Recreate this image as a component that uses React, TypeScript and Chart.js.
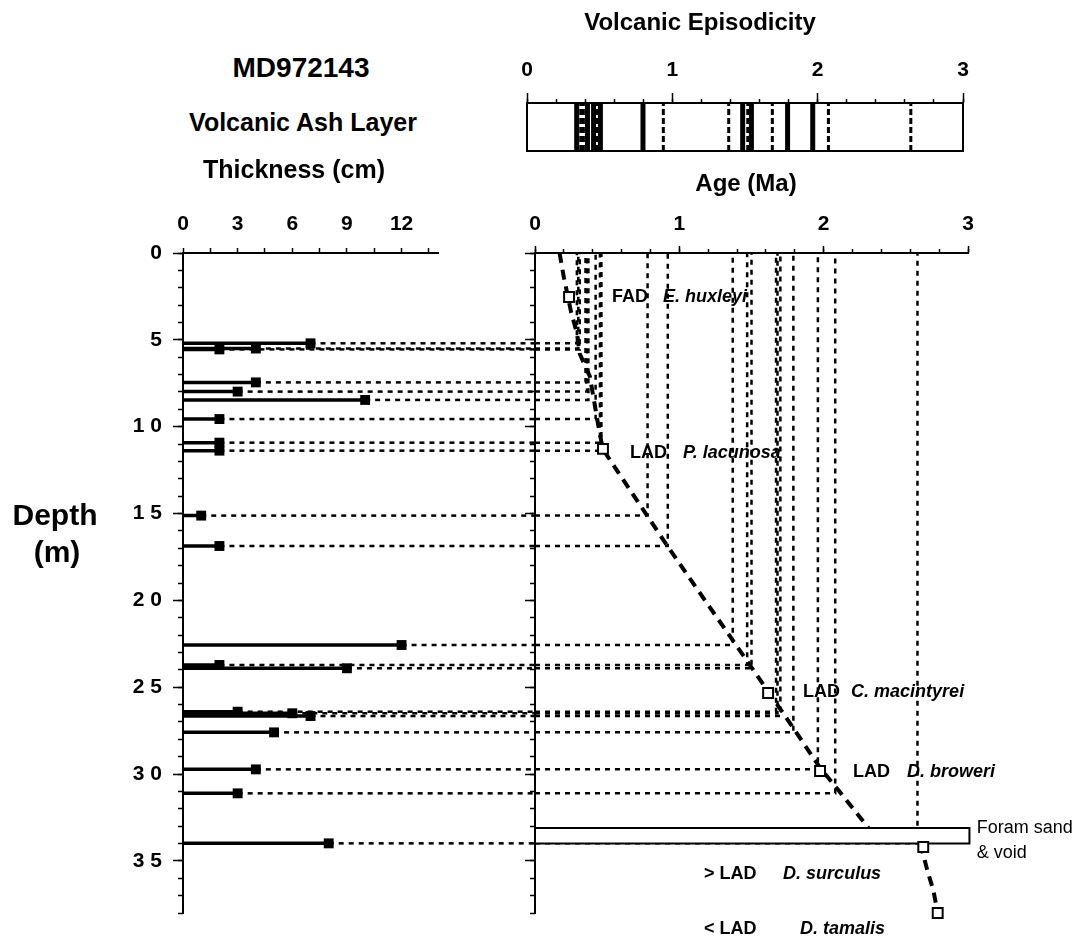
import React, { useEffect, useRef } from "react";
import { Chart, registerables } from "chart.js";

Chart.register(...registerables);

const FONT = '"Liberation Sans", Arial, Helvetica, sans-serif';

// ---------------- data ----------------
// Volcanic ash layers in core MD972143
const LAYER_DEPTH_M = [5.2, 5.5, 5.55, 7.45, 7.98, 8.46, 9.56, 10.92, 11.38, 15.12, 16.87, 22.57, 23.72, 23.91, 26.41, 26.5, 26.66, 27.6, 29.73, 31.11, 33.99];
const LAYER_THICKNESS_CM = [7, 4, 2, 4, 3, 10, 2, 2, 2, 1, 2, 12, 2, 9, 3, 6, 7, 5, 4, 3, 8];
const LAYER_AGE_MA = [0.29, 0.3, 0.31, 0.35, 0.36, 0.37, 0.42, 0.45, 0.46, 0.78, 0.92, 1.37, 1.47, 1.5, 1.67, 1.68, 1.7, 1.79, 1.96, 2.08, 2.65];

// Age-depth model (dashed), upper and lower parts (interrupted by the foram sand)
const MODEL_UPPER_AGE = [0.17, 0.2, 0.25, 0.29, 0.31, 0.38, 0.44, 0.47, 0.92, 1.52, 1.72, 1.98, 2.09, 2.31];
const MODEL_UPPER_DEPTH = [0, 1.4, 3.4, 4.6, 5.8, 7.1, 10.0, 11.3, 16.9, 24.1, 26.5, 29.7, 30.8, 33.1];
const MODEL_LOWER_AGE = [2.67, 2.72, 2.76, 2.79];
const MODEL_LOWER_DEPTH = [34.0, 35.6, 36.7, 38.0];

// Nannofossil datums
const EVENT_TYPE = ["FAD", "LAD", "LAD", "LAD", "> LAD", "< LAD"];
const EVENT_NAME = ["E. huxleyi", "P. lacunosa", "C. macintyrei", "D. broweri", "D. surculus", "D. tamalis"];
const EVENT_AGE = [0.236, 0.471, 1.615, 1.975, 2.69, 2.79];
const EVENT_DEPTH = [2.53, 11.28, 25.33, 29.82, 34.2, 38.0];
// label anchors (data units)
const EVENT_LABEL_DEPTH = [2.54, 11.53, 25.3, 29.86, 35.73, 38.9];
const EVENT_TYPE_LABEL_AGE = [0.534, 0.658, 1.857, 2.204, 1.171, 1.171];
const EVENT_NAME_LABEL_AGE = [0.887, 1.026, 2.19, 2.578, 1.719, 1.836];

// Foram sand & void interval
const FORAM_TOP_M = 33.1;
const FORAM_BOTTOM_M = 34.0;
const FORAM_AGE_END = 3.01;
const FORAM_LABEL = ["Foram sand", "& void"];
const FORAM_LABEL_DEPTH = [33.08, 34.52];
const FORAM_LABEL_AGE = 3.06;

// Volcanic episodicity bar
const EPISODE_AGE = [0.342, 0.37, 0.388, 0.416, 0.458, 0.484, 0.505, 0.798, 0.938, 1.388, 1.484, 1.519, 1.544, 1.688, 1.793, 1.966, 2.074, 2.641];
const EPISODE_THICK = [true, false, false, true, true, false, true, true, false, false, true, false, true, false, true, true, false, false];

// ticks
const THICK_TICKS = [0, 1.5, 3, 4.5, 6, 7.5, 9, 10.5, 12, 13.5];
const THICK_LABELS = [0, 3, 6, 9, 12];
const DEPTH_MAJOR = [0, 5, 10, 15, 20, 25, 30, 35];
const DEPTH_MINOR = [0, 1, 2, 3, 4, 5, 6, 7, 8, 9, 10, 11, 12, 13, 14, 15, 16, 17, 18, 19, 20, 21, 22, 23, 24, 25, 26, 27, 28, 29, 30, 31, 32, 33, 34, 35, 36, 37, 38];
const AGE_MAJOR = [0, 1, 2, 3];
const AGE_MINOR = [0, 0.2, 0.4, 0.6, 0.8, 1, 1.2, 1.4, 1.6, 1.8, 2, 2.2, 2.4, 2.6, 2.8, 3];

// ---------------- helpers ----------------
const tickFont = { family: FONT, size: 21, weight: "bold" as const };
const setTicks = (vals: number[]) => (s: any) => {
  s.ticks = vals.map((v) => ({ value: v }));
};

function gridOpts(len: number) {
  return { display: true, drawOnChartArea: false, drawTicks: true, tickLength: len, tickColor: "#000", tickWidth: 1.5 };
}

const basePlugins = { legend: { display: false }, tooltip: { enabled: false }, title: { display: false } };

// ---------------- charts ----------------
const leftConnectors = {
  id: "leftConnectors",
  beforeDatasetsDraw(chart: any) {
    const { ctx } = chart;
    const xs = chart.scales.x;
    const ys = chart.scales.y;
    ctx.save();
    ctx.strokeStyle = "#000";
    ctx.lineWidth = 2.5;
    ctx.setLineDash([5, 5]);
    LAYER_DEPTH_M.forEach((d, i) => {
      const y = ys.getPixelForValue(d);
      ctx.beginPath();
      ctx.moveTo(xs.getPixelForValue(LAYER_THICKNESS_CM[i]), y);
      ctx.lineTo(chart.width, y);
      ctx.stroke();
    });
    ctx.restore();
  },
};

function makeLeft() {
  const bars: any[] = [];
  LAYER_DEPTH_M.forEach((d, i) => {
    bars.push({ x: 0, y: d }, { x: LAYER_THICKNESS_CM[i], y: d }, { x: LAYER_THICKNESS_CM[i], y: null });
  });
  return {
    type: "line",
    data: {
      datasets: [
        {
          data: LAYER_DEPTH_M.map((d, i) => ({ x: LAYER_THICKNESS_CM[i], y: d })),
          showLine: false,
          pointStyle: "rect",
          pointRadius: 7,
          pointBackgroundColor: "#000",
          pointBorderColor: "#000",
          pointBorderWidth: 0,
          order: 0,
          clip: false,
        },
        {
          data: bars,
          borderColor: "#000",
          borderWidth: 3.5,
          pointRadius: 0,
          spanGaps: false,
          fill: false,
          order: 1,
        },
      ],
    },
    options: {
      responsive: false,
      animation: false,
      devicePixelRatio: 1,
      layout: { padding: { left: 0, top: 0, right: 97, bottom: 27 } },
      plugins: basePlugins,
      scales: {
        x: {
          type: "linear",
          position: "top",
          min: 0,
          max: 14,
          afterBuildTicks: setTicks(THICK_TICKS),
          afterFit: (s: any) => { s.height = 73; },
          ticks: {
            autoSkip: false, maxRotation: 0, padding: 11, color: "#000", font: tickFont,
            callback: (v: number) => (THICK_LABELS.includes(v) ? String(v) : ""),
          },
          grid: gridOpts(5),
          border: { display: true, color: "#000", width: 2 },
        },
        y: {
          type: "linear",
          position: "left",
          reverse: true,
          min: 0,
          max: 38,
          weight: 1,
          afterBuildTicks: setTicks(DEPTH_MAJOR),
          afterFit: (s: any) => { s.width = 183; },
          ticks: {
            autoSkip: false, padding: 11, color: "#000", font: tickFont,
            callback: (v: number) => String(v).split("").join(" "),
          },
          grid: gridOpts(10),
          border: { display: true, color: "#000", width: 2 },
        },
        yMinor: {
          type: "linear",
          position: "left",
          reverse: true,
          min: 0,
          max: 38,
          weight: 0,
          afterBuildTicks: setTicks(DEPTH_MINOR),
          afterFit: (s: any) => { s.width = 0; },
          ticks: { display: false },
          grid: gridOpts(5),
          border: { display: false },
        },
      },
    },
    plugins: [leftConnectors],
  };
}

const rightAnnotations = {
  id: "rightAnnotations",
  afterDatasetsDraw(chart: any) {
    const { ctx } = chart;
    const xs = chart.scales.x;
    const ys = chart.scales.y;
    ctx.save();
    ctx.fillStyle = "#000";
    ctx.textAlign = "left";
    ctx.textBaseline = "middle";
    EVENT_TYPE.forEach((t, i) => {
      const y = ys.getPixelForValue(EVENT_LABEL_DEPTH[i]);
      ctx.font = `bold 18px ${FONT}`;
      ctx.fillText(t, xs.getPixelForValue(EVENT_TYPE_LABEL_AGE[i]), y);
      ctx.font = `italic bold 18px ${FONT}`;
      ctx.fillText(EVENT_NAME[i], xs.getPixelForValue(EVENT_NAME_LABEL_AGE[i]), y);
    });
    ctx.font = `18px ${FONT}`;
    FORAM_LABEL.forEach((t, i) => {
      ctx.fillText(t, xs.getPixelForValue(FORAM_LABEL_AGE), ys.getPixelForValue(FORAM_LABEL_DEPTH[i]));
    });
    ctx.restore();
  },
};

function makeRight() {
  const connectors: any[] = [];
  LAYER_DEPTH_M.forEach((d, i) => {
    const a = LAYER_AGE_MA[i];
    connectors.push({ x: 0, y: d }, { x: a, y: d }, { x: a, y: 0 }, { x: a, y: null });
  });
  const model: any[] = MODEL_UPPER_AGE.map((a, i) => ({ x: a, y: MODEL_UPPER_DEPTH[i] }));
  model.push({ x: MODEL_UPPER_AGE[MODEL_UPPER_AGE.length - 1], y: null });
  MODEL_LOWER_AGE.forEach((a, i) => model.push({ x: a, y: MODEL_LOWER_DEPTH[i] }));
  const box = [
    { x: 0, y: FORAM_TOP_M },
    { x: FORAM_AGE_END, y: FORAM_TOP_M },
    { x: FORAM_AGE_END, y: FORAM_BOTTOM_M },
    { x: 0, y: FORAM_BOTTOM_M },
    { x: 0, y: FORAM_TOP_M },
  ];
  return {
    type: "line",
    data: {
      datasets: [
        {
          data: EVENT_AGE.map((a, i) => ({ x: a, y: EVENT_DEPTH[i] })),
          showLine: false,
          pointStyle: "rect",
          pointRadius: 7,
          pointBackgroundColor: "#fff",
          pointBorderColor: "#000",
          pointBorderWidth: 2,
          order: 0,
          clip: false,
        },
        {
          data: box,
          borderColor: "#000",
          borderWidth: 2,
          backgroundColor: "#fff",
          fill: "shape",
          pointRadius: 0,
          order: 1,
          clip: false,
        },
        {
          data: model,
          borderColor: "#000",
          borderWidth: 4,
          borderDash: [10, 7],
          pointRadius: 0,
          spanGaps: false,
          fill: false,
          order: 2,
          clip: false,
        },
        {
          data: connectors,
          borderColor: "#000",
          borderWidth: 2.5,
          borderDash: [5, 5],
          pointRadius: 0,
          spanGaps: false,
          fill: false,
          order: 3,
        },
      ],
    },
    options: {
      responsive: false,
      animation: false,
      devicePixelRatio: 1,
      layout: { padding: { left: 0, top: 0, right: 122, bottom: 27 } },
      plugins: basePlugins,
      scales: {
        x: {
          type: "linear",
          position: "top",
          min: 0,
          max: 3,
          weight: 1,
          afterBuildTicks: setTicks(AGE_MAJOR),
          afterFit: (s: any) => { s.height = 73; },
          ticks: { autoSkip: false, maxRotation: 0, padding: 9, color: "#000", font: tickFont },
          grid: gridOpts(7),
          border: { display: true, color: "#000", width: 2 },
        },
        xMinor: {
          type: "linear",
          position: "top",
          min: 0,
          max: 3,
          weight: 0,
          afterBuildTicks: setTicks(AGE_MINOR),
          afterFit: (s: any) => { s.height = 0; },
          ticks: { display: false },
          grid: gridOpts(4),
          border: { display: false },
        },
        y: {
          type: "linear",
          position: "left",
          reverse: true,
          min: 0,
          max: 38,
          weight: 1,
          afterBuildTicks: setTicks(DEPTH_MAJOR),
          afterFit: (s: any) => { s.width = 35; },
          ticks: { display: false },
          grid: gridOpts(10),
          border: { display: true, color: "#000", width: 2 },
        },
        yMinor: {
          type: "linear",
          position: "left",
          reverse: true,
          min: 0,
          max: 38,
          weight: 0,
          afterBuildTicks: setTicks(DEPTH_MINOR),
          afterFit: (s: any) => { s.width = 0; },
          ticks: { display: false },
          grid: gridOpts(5),
          border: { display: false },
        },
      },
    },
    plugins: [rightAnnotations],
  };
}

const frame = {
  id: "frame",
  afterDatasetsDraw(chart: any) {
    const { ctx, chartArea: a } = chart;
    ctx.save();
    ctx.strokeStyle = "#000";
    ctx.lineWidth = 2;
    ctx.strokeRect(a.left, a.top, a.right - a.left, a.bottom - a.top);
    ctx.restore();
  },
};

function makeEpisodes() {
  return {
    type: "line",
    data: {
      datasets: EPISODE_AGE.map((a, i) => ({
        data: [{ x: a, y: 0 }, { x: a, y: 1 }],
        borderColor: "#000",
        borderWidth: EPISODE_THICK[i] ? 5 : 3,
        borderDash: EPISODE_THICK[i] ? [] : [6, 3],
        pointRadius: 0,
        fill: false,
      })),
    },
    options: {
      responsive: false,
      animation: false,
      devicePixelRatio: 1,
      layout: { padding: { left: 47, top: 0, right: 37, bottom: 14 } },
      plugins: basePlugins,
      scales: {
        x: {
          type: "linear",
          position: "top",
          min: 0,
          max: 3,
          weight: 1,
          afterBuildTicks: setTicks(AGE_MAJOR),
          afterFit: (s: any) => { s.height = 73; },
          ticks: { autoSkip: false, maxRotation: 0, padding: 10, color: "#000", font: tickFont },
          grid: gridOpts(10),
          border: { display: true, color: "#000", width: 2 },
        },
        xMinor: {
          type: "linear",
          position: "top",
          min: 0,
          max: 3,
          weight: 0,
          afterBuildTicks: setTicks(AGE_MINOR),
          afterFit: (s: any) => { s.height = 0; },
          ticks: { display: false },
          grid: gridOpts(4),
          border: { display: false },
        },
        y: { type: "linear", display: false, min: 0, max: 1 },
      },
    },
    plugins: [frame],
  };
}

function ChartBox({ left, top, width, height, make }: any) {
  const ref = useRef<HTMLCanvasElement>(null);
  useEffect(() => {
    const chart = new Chart(ref.current as HTMLCanvasElement, make() as any);
    return () => chart.destroy();
  }, []);
  return (
    <div style={{ position: "absolute", left, top, width, height }}>
      <canvas ref={ref} width={width} height={height} style={{ display: "block", width, height }} />
    </div>
  );
}

function Text({ x, y, size, children }: any) {
  return (
    <div
      style={{
        position: "absolute",
        left: x,
        top: y,
        transform: "translate(-50%, -50%)",
        fontFamily: FONT,
        fontWeight: "bold",
        fontSize: size,
        lineHeight: 1,
        whiteSpace: "nowrap",
        color: "#000",
      }}
    >
      {children}
    </div>
  );
}

export default function App() {
  return (
    <div style={{ position: "absolute", left: 0, top: 0, width: 1090, height: 940, background: "#fff", overflow: "hidden" }}>
      <ChartBox left={0} top={180} width={535} height={760} make={makeLeft} />
      <ChartBox left={500} top={180} width={590} height={760} make={makeRight} />
      <ChartBox left={480} top={30} width={520} height={135} make={makeEpisodes} />
      <Text x={700} y={22} size={24}>Volcanic Episodicity</Text>
      <Text x={301} y={68} size={28}>MD972143</Text>
      <Text x={303} y={122} size={25}>Volcanic Ash Layer</Text>
      <Text x={294} y={169} size={25}>Thickness (cm)</Text>
      <Text x={746} y={183} size={24}>Age (Ma)</Text>
      <Text x={55} y={515} size={30}>Depth</Text>
      <Text x={57} y={552} size={30}>(m)</Text>
    </div>
  );
}
